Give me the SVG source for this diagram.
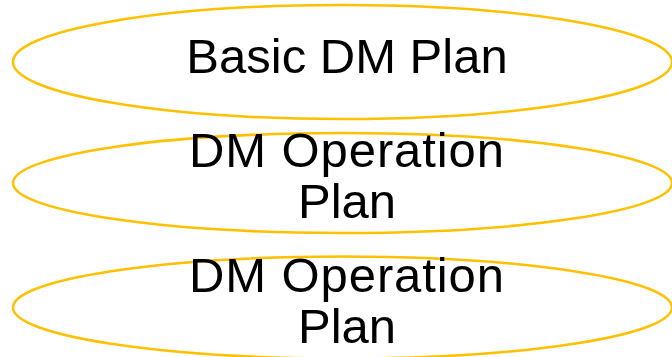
<svg xmlns="http://www.w3.org/2000/svg" width="672" height="357" viewBox="0 0 672 357">
<style>
.shape{fill:none;stroke:#FFC000;stroke-width:2.5}
.label{font-family:"Liberation Sans",Arial,sans-serif;font-size:49px;fill:#000;text-anchor:middle}
</style>
<rect width="672" height="357" fill="#fff"/>
<g id="connectors"></g>
<g id="node-basic">
<ellipse class="shape" cx="342.5" cy="62" rx="329.5" ry="57"/>
<text class="label" x="347" y="73">Basic DM Plan</text>
</g>
<g id="node-op1">
<ellipse class="shape" cx="342.5" cy="183" rx="329.5" ry="50"/>
<text class="label" x="346.5" y="167" textLength="315" lengthAdjust="spacing">DM Operation</text>
<text class="label" x="347" y="218">Plan</text>
</g>
<g id="node-op2">
<ellipse class="shape" cx="342.5" cy="307.5" rx="329.5" ry="51"/>
<text class="label" x="346.5" y="292" textLength="315" lengthAdjust="spacing">DM Operation</text>
<text class="label" x="347" y="343">Plan</text>
</g>
</svg>
